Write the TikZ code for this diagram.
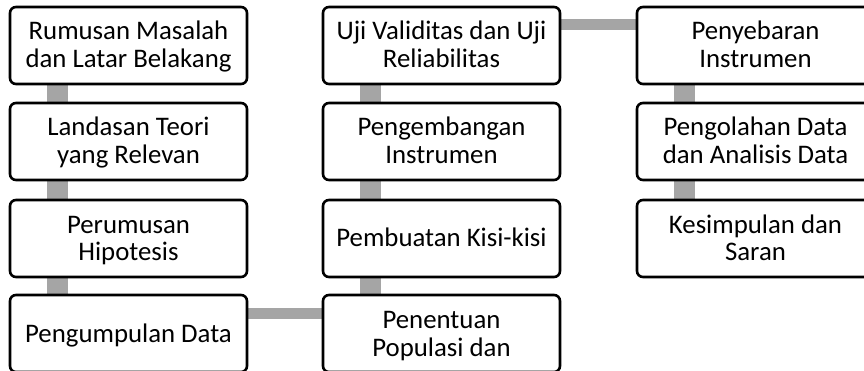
\documentclass[tikz,border=0pt]{standalone}
\usepackage{fontspec}
\setmainfont{Carlito}
\usetikzlibrary{backgrounds}
\definecolor{bargray}{HTML}{A5A5A5}
\newcommand\tst{\rule{0pt}{24pt}}
\newcommand\bst{\rule[-7pt]{0pt}{7pt}}
\tikzset{
  stepbox/.style={draw=black, line width=2.6pt, rounded corners=6pt, fill=white,
    minimum width=237pt, minimum height=77pt, inner sep=0pt, align=center,
    font=\fontsize{26.8}{28}\selectfont},
  vbar/.style={draw=bargray, line width=21pt},
  hbar/.style={draw=bargray, line width=10.5pt},
}
\begin{document}
\begin{tikzpicture}[x=1pt,y=-1pt]
\useasboundingbox (0,0) rectangle (864,371);
\clip (0,0) rectangle (864,371);
% column 1
\node[stepbox] (a1) at (128.5,45.5) {\tst Rumusan Masalah\\dan Latar Belakang\bst};
\node[stepbox] (a2) at (128.5,141.5) {\tst Landasan Teori\\yang Relevan\bst};
\node[stepbox] (a3) at (128.5,238.5) {\tst Perumusan\\Hipotesis\bst};
\node[stepbox] (a4) at (128.5,333.5) {\tst Pengumpulan Data\bst};
% column 2
\node[stepbox] (b1) at (441.5,45.5) {\tst Uji Validitas dan Uji\\Reliabilitas\bst};
\node[stepbox] (b2) at (441.5,141.5) {\tst Pengembangan\\Instrumen\bst};
\node[stepbox] (b3) at (441.5,238.5) {\tst Pembuatan Kisi-kisi\bst};
\node[stepbox] (b4) at (441.5,333.5) {\tst Penentuan\\Populasi dan\bst};
% column 3
\node[stepbox] (c1) at (755.5,45.5) {\tst Penyebaran\\Instrumen\bst};
\node[stepbox] (c2) at (755.5,141.5) {\tst Pengolahan Data\\dan Analisis Data\bst};
\node[stepbox] (c3) at (755.5,238.5) {\tst Kesimpulan dan\\Saran\bst};
% connectors
\begin{scope}[on background layer]
  \draw[vbar] ([xshift=48.5pt]a1.south west) -- ([xshift=48.5pt]a2.north west);
  \draw[vbar] ([xshift=48.5pt]a2.south west) -- ([xshift=48.5pt]a3.north west);
  \draw[vbar] ([xshift=48.5pt]a3.south west) -- ([xshift=48.5pt]a4.north west);
  \draw[hbar] ([yshift=-20pt]a4.north east) -- ([yshift=-20pt]b4.north west);
  \draw[vbar] ([xshift=48.5pt]b4.north west) -- ([xshift=48.5pt]b3.south west);
  \draw[vbar] ([xshift=48.5pt]b3.north west) -- ([xshift=48.5pt]b2.south west);
  \draw[vbar] ([xshift=48.5pt]b2.north west) -- ([xshift=48.5pt]b1.south west);
  \draw[hbar] ([yshift=-19pt]b1.north east) -- ([yshift=-19pt]c1.north west);
  \draw[vbar] ([xshift=48.5pt]c1.south west) -- ([xshift=48.5pt]c2.north west);
  \draw[vbar] ([xshift=48.5pt]c2.south west) -- ([xshift=48.5pt]c3.north west);
\end{scope}
\end{tikzpicture}
\end{document}
